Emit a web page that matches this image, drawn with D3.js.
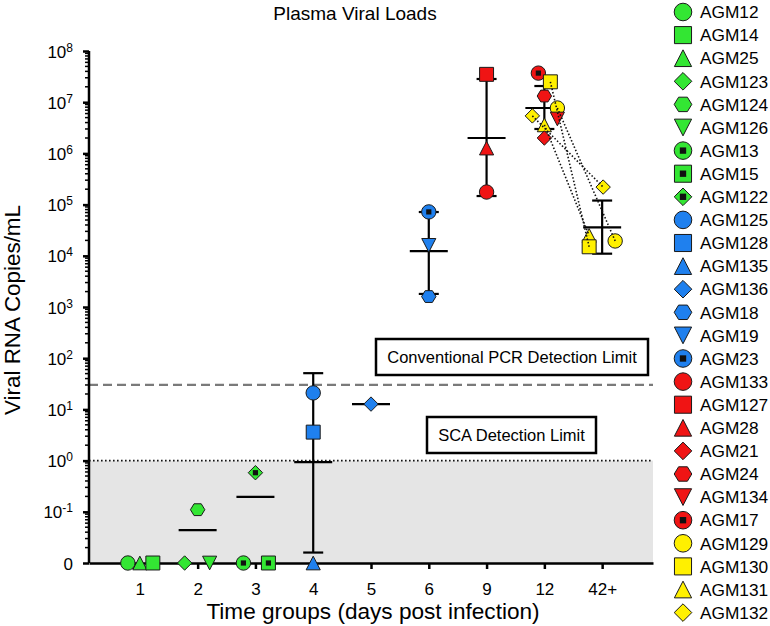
<!DOCTYPE html>
<html><head><meta charset="utf-8">
<script src="https://cdn.jsdelivr.net/npm/d3@7"></script>
<style>
body{margin:0;background:#fff}
svg{display:block}
text{font-family:Arial,"Liberation Sans",sans-serif;fill:#000}
</style>
</head><body>
<svg id="chart" width="770" height="626"></svg>
<script>
// ---------------- DATA ----------------
const categories = ["1","2","3","4","5","6","9","12","42+"];
const animals = ["AGM12","AGM14","AGM25","AGM123","AGM124","AGM126","AGM13","AGM15","AGM122",
  "AGM125","AGM128","AGM135","AGM136","AGM18","AGM19","AGM23",
  "AGM133","AGM127","AGM28","AGM21","AGM24","AGM134","AGM17",
  "AGM129","AGM130","AGM131","AGM132"];
// individual measurements (0 = undetectable, plotted on the "0" baseline)
const pointGroup  = ["1","1","1", "2","2","2", "3","3","3", "4","4","4", "5", "6","6","6",
  "9","9","9", "12","12","12","12","12","12","12","12", "42+","42+","42+","42+"];
const pointAnimal = ["AGM12","AGM25","AGM14", "AGM123","AGM124","AGM126", "AGM13","AGM122","AGM15",
  "AGM125","AGM128","AGM135", "AGM136", "AGM23","AGM19","AGM18",
  "AGM127","AGM28","AGM133",
  "AGM17","AGM130","AGM24","AGM129","AGM132","AGM134","AGM131","AGM21",
  "AGM132","AGM131","AGM130","AGM129"];
const pointValue  = [0,0,0, 0,0.11,0, 0,0.58,0, 21,3.6,0, 12.7, 72000,16000,1600,
  3.5e7,1.27e6,1.76e5,
  3.7e7,2.5e7,1.32e7,7.7e6,5.4e6,4.7e6,3.6e6,2.0e6,
  2.2e5,2.5e4,1.5e4,1.95e4];
// group summaries (mean line and error bar), null = not drawn
const meanValue = [null,0.044,0.195,0.93,12.7,12300,2.0e6,7.7e6,3.6e4];
const errLow    = [null,null,null,0.016,null,1800,1.47e5,3.0e6,1.1e4];
const errHigh   = [null,null,null,51,null,71600,2.84e7,2.07e7,1.2e5];
// y tick labels
const yTickValues = [0.01,0.1,1,10,100,1e3,1e4,1e5,1e6,1e7,1e8];
const yTickBase   = ["0","10","10","10","10","10","10","10","10","10","10"];
const yTickExp    = ["","-1","0","1","2","3","4","5","6","7","8"];
const limitPCR = 30, limitSCA = 1;
const connectedAnimals = ["AGM129","AGM130","AGM131","AGM132"];
const titleText = "Plasma Viral Loads";
const xLabel = "Time groups (days post infection)";
const yLabel = "Viral RNA Copies/mL";
const pcrLabel = "Conventional PCR Detection Limit";
const scaLabel = "SCA Detection Limit";

// ---------------- STYLE / LAYOUT ----------------
const colorOf = {green:"#33e633", blue:"#1f80ee", red:"#f01414", yellow:"#fff000"};
const animalColor = {};
["AGM12","AGM14","AGM25","AGM123","AGM124","AGM126","AGM13","AGM15","AGM122"].forEach(a=>animalColor[a]=colorOf.green);
["AGM125","AGM128","AGM135","AGM136","AGM18","AGM19","AGM23"].forEach(a=>animalColor[a]=colorOf.blue);
["AGM133","AGM127","AGM28","AGM21","AGM24","AGM134","AGM17"].forEach(a=>animalColor[a]=colorOf.red);
["AGM129","AGM130","AGM131","AGM132"].forEach(a=>animalColor[a]=colorOf.yellow);
const shapeOf = {AGM12:"circle",AGM14:"square",AGM25:"triangle",AGM123:"diamond",AGM124:"hexagon",AGM126:"down",
  AGM13:"circleDot",AGM15:"squareDot",AGM122:"diamondDot",
  AGM125:"circle",AGM128:"square",AGM135:"triangle",AGM136:"diamond",AGM18:"hexagon",AGM19:"down",AGM23:"circleDot",
  AGM133:"circle",AGM127:"square",AGM28:"triangle",AGM21:"diamond",AGM24:"hexagon",AGM134:"down",AGM17:"circleDot",
  AGM129:"circle",AGM130:"square",AGM131:"triangle",AGM132:"diamond"};
// horizontal scatter offsets (px) of points within a group
const jitter = {"1|AGM12":-12,"1|AGM14":13,"2|AGM123":-13,"2|AGM126":12,"3|AGM13":-12,"3|AGM15":13,
  "12|AGM17":-6,"12|AGM130":6,"12|AGM129":13,"12|AGM132":-12,"12|AGM134":13,
  "42+|AGM132":1,"42+|AGM131":-13,"42+|AGM130":-13,"42+|AGM129":13};

const svg = d3.select("#chart");
const plotL = 89, plotR = 653, plotT = 51, plotB = 563;

const x = d3.scalePoint().domain(categories).range([plotL, plotR]).padding(0.88);
const y = d3.scaleLog().domain([0.01, 1e8]).range([plotB, plotT]);
const yv = v => y(v <= 0 ? 0.01 : v);

function symPath(shape, r){
  const base = shape.replace("Dot","");
  let p;
  if(base==="circle") p = `M${-r},0A${r},${r} 0 1,0 ${r},0A${r},${r} 0 1,0 ${-r},0Z`;
  else if(base==="square"){const s=r*0.97; p=`M${-s},${-s}H${s}V${s}H${-s}Z`;}
  else if(base==="triangle"){const w=r*0.98,h=r*0.95; p=`M0,${-h}L${w},${h}L${-w},${h}Z`;}
  else if(base==="down"){const w=r*0.98,h=r*0.95; p=`M0,${h}L${w},${-h}L${-w},${-h}Z`;}
  else if(base==="diamond"){const d=r*1.0; p=`M0,${-d}L${d},0L0,${d}L${-d},0Z`;}
  else if(base==="hexagon"){const a=r,b=r*0.5,c=r*0.82; p=`M${-a},0L${-b},${-c}L${b},${-c}L${a},0L${b},${c}L${-b},${c}Z`;}
  return p;
}
function drawSymbol(g, shape, r, fill){
  g.append("path").attr("d", symPath(shape, r)).attr("fill", fill)
    .attr("stroke", "#1a1a1a").attr("stroke-width", 1);
  if(shape.endsWith("Dot")){
    const s = r*0.36;
    g.append("rect").attr("x",-s).attr("y",-s).attr("width",2*s).attr("height",2*s).attr("fill","#111");
  }
}

// Title
svg.append("text").attr("x",355).attr("y",20).attr("text-anchor","middle")
  .attr("font-size","19px").text(titleText);

// grey region below SCA limit
svg.append("rect").attr("x",plotL).attr("y",y(limitSCA)).attr("width",plotR-plotL)
  .attr("height",plotB-y(limitSCA)).attr("fill","#e5e5e5");
svg.append("line").attr("x1",plotL).attr("x2",plotR).attr("y1",y(limitSCA)).attr("y2",y(limitSCA))
  .attr("stroke","#111").attr("stroke-width",1.6).attr("stroke-dasharray","1.6 2.4");
svg.append("line").attr("x1",plotL).attr("x2",plotR).attr("y1",y(limitPCR)).attr("y2",y(limitPCR))
  .attr("stroke","#7a7a7a").attr("stroke-width",2.2).attr("stroke-dasharray","9 5");

// annotation boxes
function box(cx, cy, w, h, txt){
  svg.append("rect").attr("x",cx-w/2).attr("y",cy-h/2).attr("width",w).attr("height",h)
    .attr("fill","#fff").attr("stroke","#000").attr("stroke-width",2.5);
  svg.append("text").attr("x",cx).attr("y",cy).attr("dy","0.36em").attr("text-anchor","middle")
    .attr("font-size","16.5px").text(txt);
}
box(512, 357, 272, 36, pcrLabel);
box(511.5, 435, 169, 36, scaLabel);

// y axis
const yAxis = d3.axisLeft(y).tickValues(yTickValues).tickSize(6).tickPadding(10).tickFormat(()=>"");
const yg = svg.append("g").attr("transform",`translate(${plotL},0)`).call(yAxis);
yg.select(".domain").attr("stroke-width",2.5).attr("d",`M0,${plotT}V${plotB}`);
yg.selectAll(".tick line").attr("stroke-width",2.5);
yg.selectAll(".tick text").each(function(d,i){
  const t = d3.select(this).attr("font-size","17px").attr("font-family",null).attr("x",-16).attr("dy","0.36em");
  t.append("tspan").text(yTickBase[i]);
  if(yTickExp[i]) t.append("tspan").attr("dy","-0.5em").attr("font-size","12px").text(yTickExp[i]);
});
// minor ticks
const minor = [];
for(let d=-2; d<8; d++) for(let k=2;k<=9;k++) minor.push(k*Math.pow(10,d));
yg.selectAll(".minor").data(minor).enter().append("line").attr("class","minor")
  .attr("x1",-4).attr("x2",0).attr("y1",d=>y(d)).attr("y2",d=>y(d))
  .attr("stroke","#000").attr("stroke-width",1.5);

// x axis
const xAxis = d3.axisBottom(x).tickSize(6).tickSizeOuter(0).tickPadding(14);
const xg = svg.append("g").attr("transform",`translate(0,${plotB})`).call(xAxis);
xg.select(".domain").attr("stroke-width",2.5);
xg.selectAll(".tick line").attr("stroke-width",2.5);
xg.selectAll(".tick text").attr("font-size","17px").attr("font-family",null);

// axis labels
svg.append("text").attr("x",373).attr("y",619).attr("text-anchor","middle")
  .attr("font-size","22.6px").text(xLabel);
svg.append("text").attr("transform","translate(20,310) rotate(-90)").attr("text-anchor","middle")
  .attr("font-size","22.4px").text(yLabel);

// error bars and means
const sg = svg.append("g").attr("stroke","#000").attr("stroke-width",2.2);
categories.forEach((c,i)=>{
  const cx = x(c);
  if(errLow[i]!=null){
    sg.append("line").attr("x1",cx).attr("x2",cx).attr("y1",yv(errLow[i])).attr("y2",yv(errHigh[i]));
    [errLow[i],errHigh[i]].forEach(v=>sg.append("line").attr("x1",cx-10).attr("x2",cx+10).attr("y1",yv(v)).attr("y2",yv(v)));
  }
  if(meanValue[i]!=null){
    sg.append("line").attr("x1",cx-19).attr("x2",cx+19).attr("y1",yv(meanValue[i])).attr("y2",yv(meanValue[i]));
  }
});

// points
const pos = {};
pointValue.forEach((v,i)=>{
  const key = pointGroup[i]+"|"+pointAnimal[i];
  const px = x(pointGroup[i]) + (jitter[key]||0);
  const py = yv(v);
  pos[key] = [px,py];
  const g = svg.append("g").attr("transform",`translate(${px},${py})`);
  drawSymbol(g, shapeOf[pointAnimal[i]], 7.2, animalColor[pointAnimal[i]]);
});

// connectors day 12 -> 42+
connectedAnimals.forEach(a=>{
  const p1 = pos["12|"+a], p2 = pos["42+|"+a];
  svg.append("line").attr("x1",p1[0]).attr("y1",p1[1]).attr("x2",p2[0]).attr("y2",p2[1])
    .attr("stroke","#111").attr("stroke-width",1.6).attr("stroke-dasharray","1.5 2");
});

// legend
const lg = svg.append("g");
animals.forEach((a,i)=>{
  const ly = 12 + i*23.1;
  const g = lg.append("g").attr("transform",`translate(683,${ly})`);
  drawSymbol(g, shapeOf[a], 8.8, animalColor[a]);
  lg.append("text").attr("x",700).attr("y",ly).attr("dy","0.36em").attr("font-size","17.3px").text(a);
});
</script>
</body></html>
